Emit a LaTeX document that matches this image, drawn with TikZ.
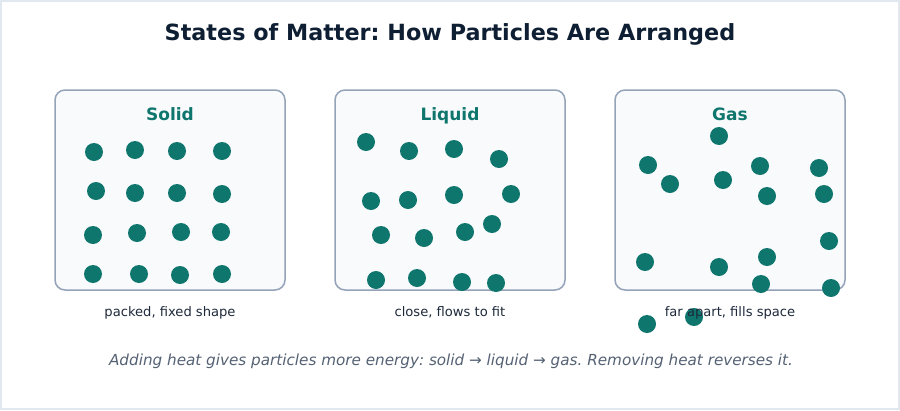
\documentclass[tikz,border=0pt]{standalone}
\usepackage{fontspec}
\setmainfont{DejaVu Sans}
\definecolor{titlecol}{HTML}{0F1F33}
\definecolor{teal}{HTML}{0F766E}
\definecolor{cardfill}{HTML}{F8FAFC}
\definecolor{cardline}{HTML}{94A3B8}
\definecolor{capcol}{HTML}{1E293B}
\definecolor{notecol}{HTML}{556274}
\definecolor{framecol}{HTML}{E2E8F0}
\tikzset{
  card/.style={draw=cardline, fill=cardfill, line width=1.5pt, rounded corners=10pt},
  cardtitle/.style={anchor=base, text=teal, font=\fontsize{17}{20}\selectfont\bfseries, inner sep=0pt},
  caption/.style={anchor=base, text=capcol, font=\fontsize{13.1}{16}\selectfont, inner sep=0pt},
  particle/.style={fill=teal}
}
\frenchspacing
\begin{document}
\begin{tikzpicture}[x=1pt,y=-1pt]
\useasboundingbox (0,0) rectangle (900,410);
\fill[white] (0,0) rectangle (900,410);
\draw[framecol, line width=2pt] (1,1) rectangle (899,409);
\node[anchor=base, text=titlecol, font=\fontsize{22.3}{26}\selectfont\bfseries, inner sep=0pt] (title) at (450,40) {States of Matter: How Particles Are Arranged};
% cards
\draw[card] (55,90) rectangle (285,290);
\draw[card] (335,90) rectangle (565,290);
\draw[card] (615,90) rectangle (845,290);
% solid particles
\foreach \x/\y in {94/152,135/150,177/151,222/151,
                   96/191,135/193,177/193,222/194,
                   93/235,137/233,181/232,221/232,
                   93/274,139/274,180/275,222/274}
  \fill[particle] (\x,\y) circle (9);
% liquid particles
\foreach \x/\y in {366/142,409/151,454/149,499/159,
                   371/201,408/200,454/195,511/194,
                   381/235,424/238,465/232,492/224,
                   376/280,417/278,462/282,496/283}
  \fill[particle] (\x,\y) circle (9);
% gas particles
\foreach \x/\y in {719/136,648/165,670/184,723/180,
                   760/166,767/196,819/168,824/194,
                   829/241,645/262,719/267,767/257,
                   761/284,831/288,647/324,694/317}
  \fill[particle] (\x,\y) circle (9);
% titles
\node[cardtitle] (solid) at (170,120.5) {Solid};
\node[cardtitle] (liquid) at (450,120.5) {Liquid};
\node[cardtitle] (gas) at (730,120.5) {Gas};
% captions
\node[caption] (capsolid) at (170,316) {packed, fixed shape};
\node[caption] (capliquid) at (450,316) {close, flows to fit};
\node[caption] (capgas) at (730,316) {far apart, fills space};
% note
\node[anchor=base, text=notecol, font=\fontsize{15.2}{18}\selectfont\itshape, inner sep=0pt] (note) at (451,365) {Adding heat gives particles more energy: solid → liquid → gas. Removing heat reverses it.};
\end{tikzpicture}
\end{document}
